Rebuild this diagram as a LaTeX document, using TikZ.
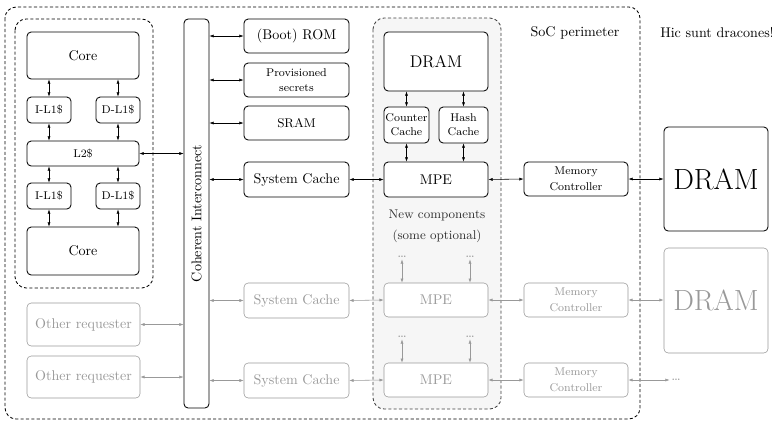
\documentclass[tikz,border=0pt]{standalone}
\usepackage{tikz}
\usepackage{graphicx}
\usetikzlibrary{arrows.meta}
\definecolor{offgray}{gray}{0.6}
\definecolor{newfill}{gray}{0.965}

\begin{document}
\begin{tikzpicture}[x=0.025cm, y=-0.025cm,
                    blk/.style={draw, semithick, rounded corners=3pt, fill=white, align=center, inner sep=1pt},
                    offblk/.style={blk, draw=offgray, text=offgray, thin},
                    link/.style={{Latex[length=3pt,width=2.2pt]}-{Latex[length=3pt,width=2.2pt]}, thin},
                    offlink/.style={link, draw=offgray},
                    region/.style={draw, dash pattern=on 2.2pt off 1.6pt, semithick, rounded corners=8pt}]
                    \useasboundingbox (0,0) rectangle (772,424);

                    % perimeters
                    \draw[region] (5,7) rectangle (640,419);
                    \draw[region] (15,19) rectangle (153,288);
                    \draw[region, fill=newfill, draw=black!75] (373,18) rectangle (501,409);

                    \node (soc) at (575,33) {SoC perimeter};
                    \node (hic) at (717,33) {Hic sunt dracones!};

                    % core complex
                    \node[blk, minimum width=2.8cm, minimum height=1.175cm] (coreA) at (83,55.5) {Core};
                    \node[blk, minimum width=1.1cm, minimum height=0.65cm] (ilA) at (49,110) {\footnotesize I-L1\$};
                    \node[blk, minimum width=1.1cm, minimum height=0.65cm] (dlA) at (118,110) {\footnotesize D-L1\$};
                    \node[blk, minimum width=2.8cm, minimum height=0.625cm] (ltwo) at (83,153.5) {\footnotesize L2\$};
                    \node[blk, minimum width=1.1cm, minimum height=0.65cm] (ilB) at (49,196) {\footnotesize I-L1\$};
                    \node[blk, minimum width=1.1cm, minimum height=0.65cm] (dlB) at (118,196) {\footnotesize D-L1\$};
                    \node[blk, minimum width=2.8cm, minimum height=1.2cm] (coreB) at (83,251) {Core};

                    \node[offblk, minimum width=2.825cm, minimum height=1.075cm] (reqA) at (83.5,324.5) {Other requester};
                    \node[offblk, minimum width=2.825cm, minimum height=1.05cm] (reqB) at (83.5,377) {Other requester};

                    % interconnect
                    \node[blk, minimum width=0.625cm, minimum height=9.725cm] (ic) at (196.5,213.5) {\rotatebox{90}{Coherent Interconnect}};

                    % on-chip slaves
                    \node[blk, minimum width=2.625cm, minimum height=0.85cm] (rom) at (296.5,36) {(Boot) ROM};
                    \node[blk, minimum width=2.625cm, minimum height=0.85cm] (prov) at (296.5,80) {\footnotesize Provisioned\\[-1pt]\footnotesize secrets};
                    \node[blk, minimum width=2.625cm, minimum height=0.85cm] (sram) at (296.5,123) {\small SRAM};
                    \node[blk, minimum width=2.625cm, minimum height=0.875cm] (scA) at (296.5,179.5) {System Cache};
                    \node[offblk, minimum width=2.625cm, minimum height=0.875cm] (scB) at (296.5,300.5) {System Cache};
                    \node[offblk, minimum width=2.625cm, minimum height=0.875cm] (scC) at (296.5,380.5) {System Cache};

                    % new components
                    \node[blk, minimum width=2.6cm, minimum height=1.475cm] (dramin) at (436,61.5) {\large DRAM};
                    \node[blk, minimum width=1.075cm, minimum height=0.9cm] (ctr) at (406.5,125) {\footnotesize Counter\\[-2pt]\footnotesize Cache};
                    \node[blk, minimum width=1.225cm, minimum height=0.9cm] (hash) at (463.5,125) {\footnotesize Hash\\[-2pt]\footnotesize Cache};
                    \node[blk, minimum width=2.6cm, minimum height=0.875cm] (mpeA) at (436,179.5) {MPE};
                    \node[align=center, text=black!80] (newc) at (437,226) {\small New components\\[3pt]\small (some optional)};
                    \node[text=offgray, inner sep=1pt] (dotA) at (402,257) {\dots};
                    \node[text=offgray, inner sep=1pt] (dotB) at (470,257) {\dots};
                    \node[offblk, minimum width=2.6cm, minimum height=0.85cm] (mpeB) at (436,300) {MPE};
                    \node[text=offgray, inner sep=1pt] (dotC) at (402,337) {\dots};
                    \node[text=offgray, inner sep=1pt] (dotD) at (470,337) {\dots};
                    \node[offblk, minimum width=2.6cm, minimum height=0.85cm] (mpeC) at (436,380) {MPE};

                    % memory side
                    \node[blk, minimum width=2.6cm, minimum height=0.85cm] (mcA) at (576,179) {\footnotesize Memory\\[-1pt]\footnotesize Controller};
                    \node[offblk, minimum width=2.6cm, minimum height=0.85cm] (mcB) at (576,300) {\footnotesize Memory\\[-1pt]\footnotesize Controller};
                    \node[offblk, minimum width=2.6cm, minimum height=0.85cm] (mcC) at (576,380) {\footnotesize Memory\\[-1pt]\footnotesize Controller};
                    \node[blk, minimum width=2.6cm, minimum height=2.6cm] (dramA) at (716,179) {\huge DRAM};
                    \node[offblk, minimum width=2.6cm, minimum height=2.625cm] (dramB) at (716,300.5) {\huge DRAM};
                    \node[text=offgray, inner sep=1pt] (dotE) at (676,380) {\dots};

                    % core complex links
                    \draw[link] (coreA.south -| ilA.north) -- (ilA.north);
                    \draw[link] (coreA.south -| dlA.north) -- (dlA.north);
                    \draw[link] (ilA.south) -- (ilA.south |- ltwo.north);
                    \draw[link] (dlA.south) -- (dlA.south |- ltwo.north);
                    \draw[link] (ltwo.south -| ilB.north) -- (ilB.north);
                    \draw[link] (ltwo.south -| dlB.north) -- (dlB.north);
                    \draw[link] (ilB.south) -- (ilB.south |- coreB.north);
                    \draw[link] (dlB.south) -- (dlB.south |- coreB.north);
                    \draw[link] (ltwo.east) -- (ltwo.east -| ic.west);
                    \draw[offlink] (reqA.east) -- (reqA.east -| ic.west);
                    \draw[offlink] (reqB.east) -- (reqB.east -| ic.west);

                    % interconnect to slaves
                    \draw[link] (rom.west -| ic.east) -- (rom.west);
                    \draw[link] (prov.west -| ic.east) -- (prov.west);
                    \draw[link] (sram.west -| ic.east) -- (sram.west);
                    \draw[link] (scA.west -| ic.east) -- (scA.west);
                    \draw[offlink] (scB.west -| ic.east) -- (scB.west);
                    \draw[offlink] (scC.west -| ic.east) -- (scC.west);

                    % memory path
                    \draw[link] (scA.east) -- (mpeA.west);
                    \draw[link] (mpeA.east) -- (mcA.west);
                    \draw[link] (mcA.east) -- (dramA.west);
                    \draw[link] (dramin.south -| ctr.north) -- (ctr.north);
                    \draw[link] (dramin.south -| hash.north) -- (hash.north);
                    \draw[link] (ctr.south) -- (ctr.south |- mpeA.north);
                    \draw[link] (hash.south) -- (hash.south |- mpeA.north);
                    \draw[offlink] (scB.east) -- (mpeB.west);
                    \draw[offlink] (mpeB.east) -- (mcB.west);
                    \draw[offlink] (mcB.east) -- (mcB.east -| dramB.west);
                    \draw[offlink] (dotA.south) -- (dotA.south |- mpeB.north);
                    \draw[offlink] (dotB.south) -- (dotB.south |- mpeB.north);
                    \draw[offlink] (scC.east) -- (mpeC.west);
                    \draw[offlink] (mpeC.east) -- (mcC.west);
                    \draw[offlink] (mcC.east) -- (dotE.west);
                    \draw[offlink] (dotC.south) -- (dotC.south |- mpeC.north);
                    \draw[offlink] (dotD.south) -- (dotD.south |- mpeC.north);
                \end{tikzpicture}
\end{document}
